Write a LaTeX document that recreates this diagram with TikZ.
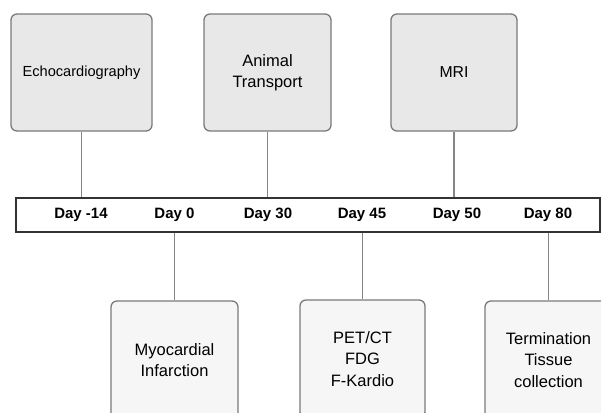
\documentclass[tikz,border=0pt]{standalone}
\usepackage{fontspec}
\setmainfont{Liberation Sans}
\begin{document}
\begin{tikzpicture}[x=1pt,y=-1pt,
  evbox/.style={draw=black!52,line width=1.3pt,rounded corners=6pt,fill=black!9,
    align=center,inner sep=0pt,font=\fontsize{16.5}{21.5}\selectfont},
  lowbox/.style={evbox,fill=black!3.5,minimum width=126pt,minimum height=118pt},
  conn/.style={draw=black!48,line width=1.2pt},
  daylbl/.style={font=\fontsize{15}{18}\selectfont\bfseries,inner sep=0pt}]
\useasboundingbox (0,0) rectangle (601,412);
\clip (0,0) rectangle (601,412);
% timeline bar
\node[draw=black!80,line width=1.6pt,fill=white,minimum width=584pt,minimum height=34pt,
  inner sep=0pt] (timeline) at (308,215) {};
% top events
\node[evbox,minimum width=141pt,minimum height=117pt,font=\fontsize{14.6}{21.5}\selectfont] (echo) at (81.5,72.5) {Echocardiography};
\node[evbox,minimum width=127pt,minimum height=117pt] (trans) at (267.5,72.5) {Animal\\Transport};
\node[evbox,minimum width=126pt,minimum height=117pt,font=\fontsize{15.8}{21.5}\selectfont] (mri) at (454,72.5) {MRI};
% bottom events
\node[lowbox,minimum width=127pt] (myo) at (174.5,360) {Myocardial\\Infarction};
\node[lowbox,minimum width=125pt] (pet) at (362.5,359) {PET/CT\\FDG\\F-Kardio};
\node[lowbox,minimum width=127pt] (term) at (548.5,360) {Termination\\Tissue\\collection};
% day labels
\node[daylbl] (d1) at (81,215) {Day -14};
\node[daylbl] (d2) at (174.5,215) {Day 0};
\node[daylbl] (d3) at (268,215) {Day 30};
\node[daylbl] (d4) at (362,215) {Day 45};
\node[daylbl] (d5) at (457,215) {Day 50};
\node[daylbl] (d6) at (548,215) {Day 80};
% connectors
\draw[conn] (echo.south) -- (echo.south |- timeline.north);
\draw[conn] (trans.south) -- (trans.south |- timeline.north);
\draw[conn] (mri.south) -- (mri.south |- timeline.north);
\draw[conn] (myo.north) -- (myo.north |- timeline.south);
\draw[conn] (pet.north) -- (pet.north |- timeline.south);
\draw[conn] (term.north) -- (term.north |- timeline.south);
\end{tikzpicture}
\end{document}
